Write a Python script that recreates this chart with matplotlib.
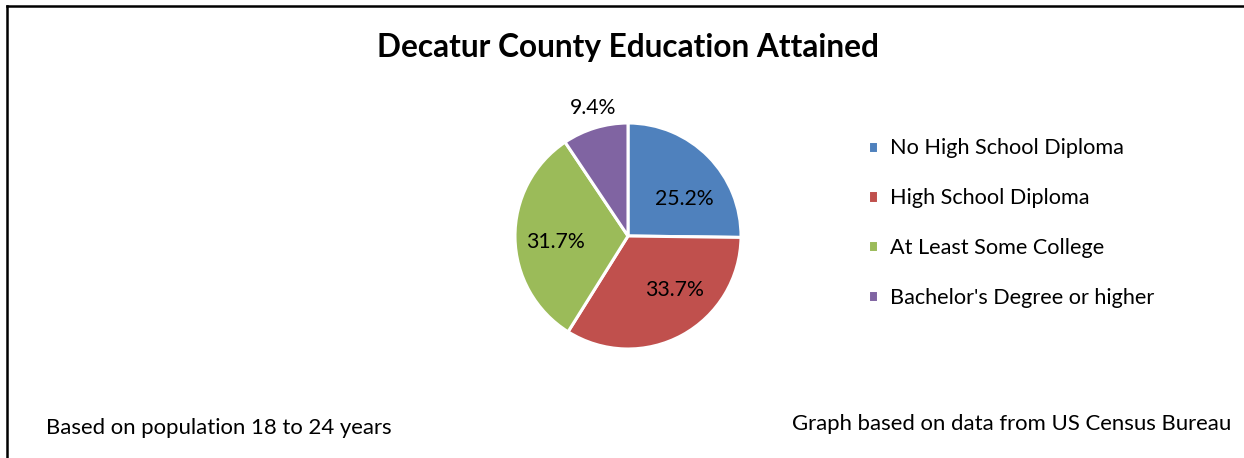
import matplotlib.pyplot as plt
from matplotlib.lines import Line2D

plt.rcParams['font.family'] = ['Lato', 'DejaVu Sans']

# education attained, Decatur County, population 18 to 24
categories = ['No High School Diploma', 'High School Diploma',
              'At Least Some College', "Bachelor's Degree or higher"]
shares = [25.2, 33.7, 31.7, 9.4]
colours = ['#4F81BD', '#C0504D', '#9BBB59', '#8064A2']

# where the percent labels sit, in pie radius units
label_pos = [(0.50, 0.33), (0.407, -0.48), (-0.646, -0.05), (-0.31, 1.13)]

W, H = 1244, 458
fig = plt.figure(figsize=(W / 100, H / 100), dpi=100)

# pie centre and radius in pixels
cx, cy, r = 628, 236, 113
ax = fig.add_axes([(cx - r) / W, (H - cy - r) / H, 2 * r / W, 2 * r / H])

wedges, texts, autotexts = ax.pie(shares, colors=colours, startangle=90,
                                  counterclock=False, autopct='%1.1f%%',
                                  wedgeprops=dict(edgecolor='white', linewidth=2.2),
                                  textprops=dict(fontsize=15.3, color='black'))
ax.set_xlim(-1, 1)
ax.set_ylim(-1, 1)

for t, p in zip(autotexts, label_pos):
    t.set_position(p)

fig.legend(wedges, categories, loc='upper left',
           bbox_to_anchor=(848 / W, 1 - 119 / H), frameon=False,
           fontsize=15.6, labelspacing=1.37, handlelength=0.5, handleheight=0.5,
           handletextpad=0.55)

fig.text(cx / W, 1 - 48 / H, 'Decatur County Education Attained',
         ha='center', va='center', fontsize=22.8, fontweight='bold')
fig.text(46 / W, 1 - 428 / H, 'Based on population 18 to 24 years',
         ha='left', va='center', fontsize=15.9)
fig.text(1231 / W, 1 - 424 / H, 'Graph based on data from US Census Bureau',
         ha='right', va='center', fontsize=15.9)

# frame edges visible in the crop (top and left)
fig.add_artist(Line2D([7 / W, 1], [1 - 6 / H, 1 - 6 / H], color='black', lw=1.8))
fig.add_artist(Line2D([7 / W, 7 / W], [0, 1 - 6 / H], color='black', lw=1.8))

fig.savefig('out.png', dpi=100)
